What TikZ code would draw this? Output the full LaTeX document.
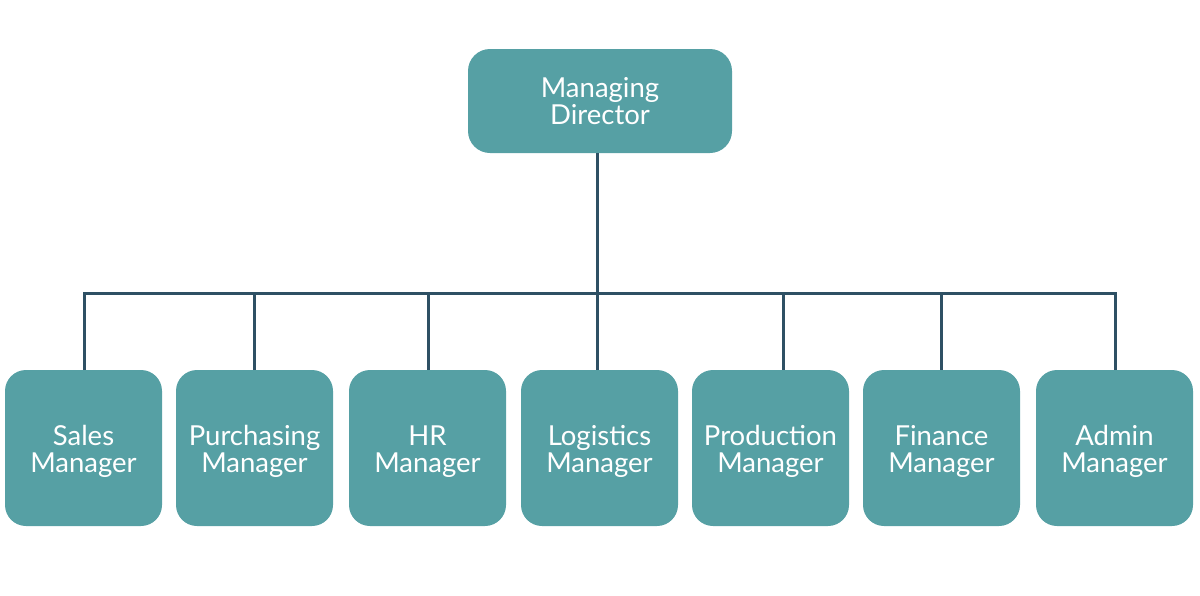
\documentclass[tikz,border=0pt]{standalone}
\usepackage{fontspec}
\setmainfont{Lato}
\definecolor{boxfill}{HTML}{56A0A4}
\definecolor{linecol}{HTML}{2E5064}
\begin{document}
\begin{tikzpicture}[x=1pt,y=-1pt,
  box/.style={fill=boxfill, draw=none, text=white, align=center,
    font=\fontsize{27.5}{27}\selectfont, inner sep=0pt},
  topbox/.style={box, rounded corners=22pt, minimum width=264pt, minimum height=104pt},
  mgrbox/.style={box, rounded corners=21pt, minimum width=157pt, minimum height=156pt, text height=54.5pt},
  conn/.style={draw=linecol, line width=3pt}]
\useasboundingbox (0,0) rectangle (1200,595);
\node[topbox] (md) at (600,101) {Managing\\Director};
\node[mgrbox] (sales) at (83.5,448) {Sales\\Manager};
\node[mgrbox] (purch) at (254.5,448) {Purchasing\\Manager};
\node[mgrbox] (hr) at (427.5,448) {HR\\Manager};
\node[mgrbox] (log) at (599.5,448) {Logistics\\Manager};
\node[mgrbox] (prod) at (770.5,448) {Production\\Manager};
\node[mgrbox] (fin) at (941.5,448) {Finance\\Manager};
\node[mgrbox] (adm) at (1114.5,448) {Admin\\Manager};
\coordinate (busL) at (84,293);
\coordinate (busR) at (1115,293);
\coordinate (mdstem) at (597,293);
\draw[conn] ([xshift=-3pt]md.south) -- (mdstem);
\draw[conn, line cap=rect] (busL) -- (busR);
\draw[conn] ([xshift=0.5pt]sales.north) -- ([xshift=0.5pt]sales.north |- busL);
\draw[conn] (purch.north) -- (purch.north |- busL);
\draw[conn] ([xshift=0.5pt]hr.north) -- ([xshift=0.5pt]hr.north |- busL);
\draw[conn] ([xshift=-2.5pt]log.north) -- ([xshift=-2.5pt]log.north |- busL);
\draw[conn] ([xshift=12.5pt]prod.north) -- ([xshift=12.5pt]prod.north |- busL);
\draw[conn] ([xshift=-0.5pt]fin.north) -- ([xshift=-0.5pt]fin.north |- busL);
\draw[conn] ([xshift=0.5pt]adm.north) -- ([xshift=0.5pt]adm.north |- busR);
\end{tikzpicture}
\end{document}
